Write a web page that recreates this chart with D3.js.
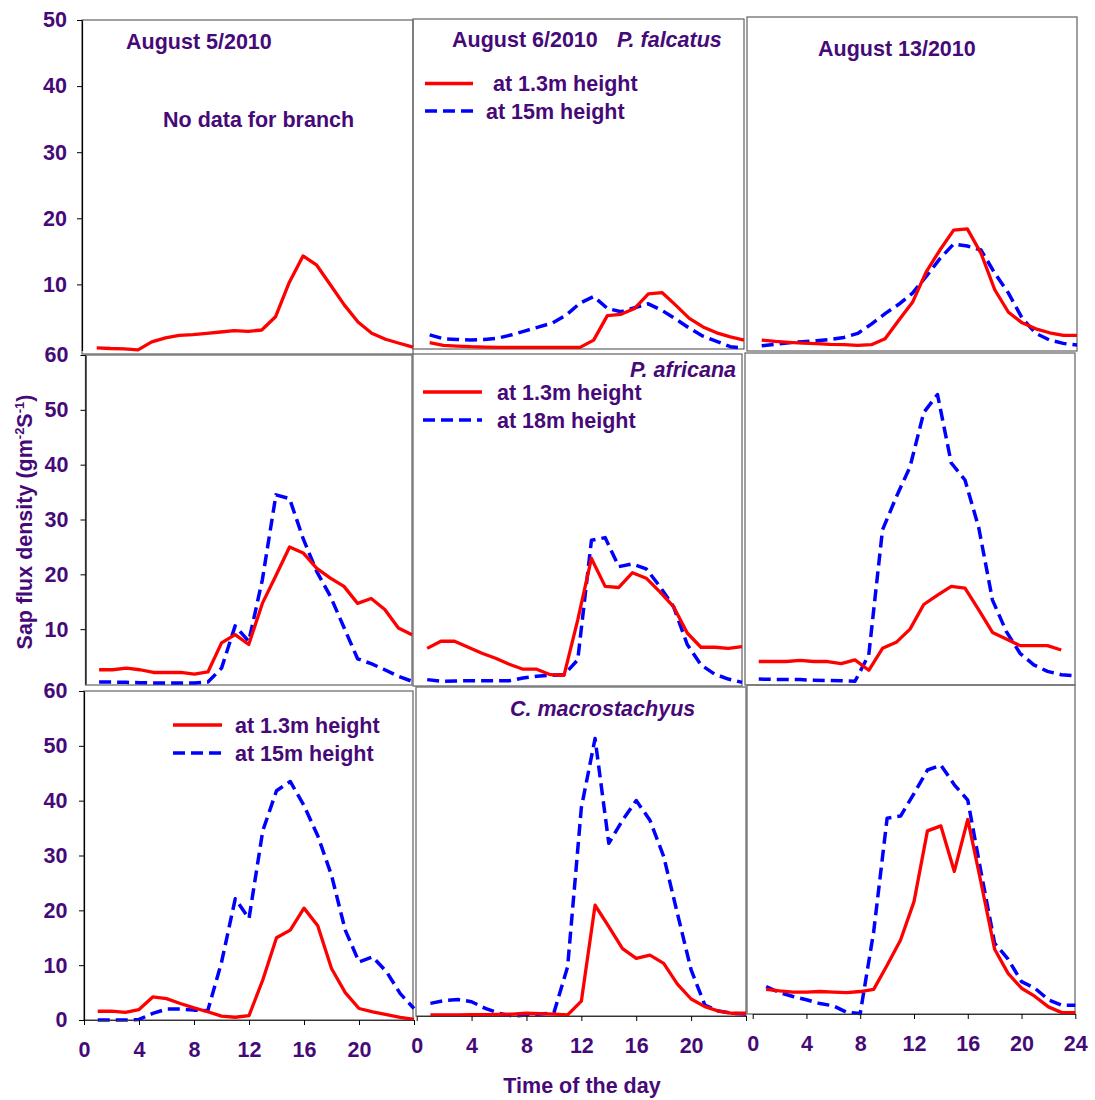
<!DOCTYPE html>
<html>
<head>
<meta charset="utf-8">
<script src="https://cdn.jsdelivr.net/npm/d3@7"></script>
<style>
  body { margin: 0; background: #fff; }
  text { font-family: "Liberation Sans", Arial, sans-serif; font-weight: bold; fill: #460a78; }
</style>
</head>
<body>
<svg id="chart" width="1095" height="1100"></svg>
<script>
// Hours of the day at which sap flux was logged
const hours = d3.range(1, 25);

// P. falcatus: stem (1.3 m) and branch (15 m)
const falcatusAug5Stem   = [0.4,0.3,0.25,0.1,1.3,1.9,2.3,2.4,2.6,2.8,3.0,2.9,3.1,5.1,10.3,14.3,12.9,9.9,6.9,4.3,2.6,1.7,1.1,0.5];
const falcatusAug6Stem   = [1.1,0.7,0.6,0.5,0.45,0.4,0.4,0.4,0.4,0.4,0.4,0.4,1.5,5.2,5.4,6.3,8.5,8.7,6.8,4.8,3.5,2.6,2.0,1.5];
const falcatusAug6Branch = [2.3,1.7,1.6,1.5,1.6,1.8,2.3,2.9,3.5,4.1,5.3,7.1,8.1,6.3,5.8,6.4,7.0,6.0,4.7,3.3,2.1,1.3,0.5,0.3];
const falcatusAug13Stem   = [1.2,1.0,0.85,0.75,0.65,0.55,0.5,0.4,0.5,1.4,4.2,6.9,11.5,14.8,17.8,18.0,14.3,8.8,5.4,3.8,2.9,2.3,1.9,1.9];
const falcatusAug13Branch = [0.35,0.55,0.8,0.95,1.1,1.3,1.6,2.2,3.6,5.2,6.6,8.3,10.8,13.5,15.7,15.4,14.8,11.3,8.3,4.5,2.2,1.2,0.7,0.45];

// P. africana: stem (1.3 m) and branch (18 m)
const africanaAug5Stem    = [2.6,2.6,2.9,2.6,2.1,2.1,2.1,1.8,2.2,7.5,9.0,7.2,14.7,19.8,25.0,23.9,21.1,19.3,17.8,14.7,15.6,13.6,10.2,9.0];
const africanaAug5Branch  = [0.35,0.35,0.3,0.25,0.2,0.2,0.2,0.2,0.35,2.9,10.6,7.8,19.0,34.5,33.8,26.5,20.5,16.0,10.3,4.6,3.7,2.6,1.4,0.5];
const africanaAug6Stem    = [6.5,7.8,7.8,6.7,5.6,4.7,3.6,2.7,2.7,1.7,1.6,11.7,22.9,17.8,17.6,20.3,19.3,16.8,14.1,9.3,6.7,6.7,6.5,6.8];
const africanaAug6Branch  = [0.8,0.5,0.55,0.6,0.6,0.6,0.6,1.1,1.4,1.6,1.7,4.4,26.2,26.7,21.4,21.9,21.0,17.8,14.1,7.2,3.5,1.8,0.9,0.3];
const africanaAug13Stem   = [4.1,4.1,4.1,4.3,4.1,4.1,3.7,4.4,2.5,6.5,7.6,10.0,14.5,16.2,17.8,17.5,13.5,9.4,8.2,7.0,7.0,7.0,6.2,null];
const africanaAug13Branch = [0.9,0.85,0.8,0.8,0.7,0.65,0.6,0.5,5.3,28.1,34.1,39.6,49.5,52.8,40.3,37.2,28.5,15.3,9.6,5.6,3.5,2.3,1.7,1.5];

// C. macrostachyus: stem (1.3 m) and branch (15 m)
const macroAug5Stem    = [1.6,1.6,1.4,1.9,4.2,3.9,3.0,2.2,1.5,0.7,0.5,0.8,7.3,15.0,16.4,20.4,17.2,9.4,5.0,2.1,1.5,1.0,0.5,0.1];
const macroAug5Branch  = [0,0,0,0.1,1.2,2.0,2.0,1.8,1.7,10.5,22.1,18.5,34.5,41.8,43.5,39.1,33.6,26.4,16.4,10.6,11.5,8.8,4.8,2.1];
const macroAug6Stem    = [0.2,0.2,0.2,0.25,0.25,0.3,0.35,0.5,0.45,0.35,0.2,2.7,20.2,16.3,12.3,10.5,11.1,9.6,5.8,3.1,1.7,0.9,0.5,0.5];
const macroAug6Branch  = [2.3,2.8,3.0,2.6,1.4,0.5,0,0.2,0.35,0.6,9.0,38.0,50.6,31.5,35.7,39.3,35.7,29.1,18.7,8.4,2.0,0.9,0.5,0.35];
const macroAug13Stem   = [4.5,4.2,4.0,4.0,4.1,4.0,3.9,4.1,4.5,8.9,13.5,20.5,33.4,34.3,26.0,35.5,23.8,11.8,7.4,4.7,3.2,1.3,0.25,0.25];
const macroAug13Branch = [5.0,3.9,3.2,2.6,1.9,1.5,0.3,0.1,15.0,35.7,36.1,40.2,44.5,45.4,41.8,39.0,25.7,12.9,10.0,5.9,4.7,2.6,1.6,1.6];

// Axis ticks
const hourTicks = [0, 4, 8, 12, 16, 20, 24];
const topRowTicks = [10, 20, 30, 40, 50];
const midRowTicks = [10, 20, 30, 40, 50, 60];
const lowRowTicks = [0, 10, 20, 30, 40, 50, 60];

const RED = "#ff0000", BLUE = "#0000ff", INK = "#460a78";
const svg = d3.select("#chart");

// Each panel: plot box and the pixel span of its 0–24 h and 0–ymax scales
const panels = [
  { stem: falcatusAug5Stem, branch: null,               ymax: 50, xr: [83, 413],    yr: [350.5, 20], box: [82, 20, 413, 354] },
  { stem: falcatusAug6Stem, branch: falcatusAug6Branch, ymax: 50, xr: [416, 744],   yr: [350, 20],   box: [413, 19, 744, 349] },
  { stem: falcatusAug13Stem, branch: falcatusAug13Branch, ymax: 50, xr: [748, 1077], yr: [348, 17],  box: [747, 17, 1077, 351] },
  { stem: africanaAug5Stem, branch: africanaAug5Branch, ymax: 60, xr: [85.5, 412],  yr: [684, 355],  box: [85.5, 355, 412, 685] },
  { stem: africanaAug6Stem, branch: africanaAug6Branch, ymax: 60, xr: [413.5, 742], yr: [684, 355],  box: [413, 354, 742, 686] },
  { stem: africanaAug13Stem, branch: africanaAug13Branch, ymax: 60, xr: [745, 1075], yr: [684, 355], box: [745, 353, 1075, 685] },
  { stem: macroAug5Stem, branch: macroAug5Branch,       ymax: 60, xr: [84, 414],    yr: [1020, 691], box: [84, 691, 413, 1020] },
  { stem: macroAug6Stem, branch: macroAug6Branch,       ymax: 60, xr: [416.7, 746], yr: [1016, 687], box: [416, 687, 746, 1016] },
  { stem: macroAug13Stem, branch: macroAug13Branch,     ymax: 60, xr: [752.7, 1075.3], yr: [1014, 685], box: [747, 685, 1075, 1014] }
];

panels.forEach(p => {
  p.x = d3.scaleLinear().domain([0, 24]).range(p.xr);
  p.y = d3.scaleLinear().domain([0, p.ymax]).range(p.yr);
});

// Panel frames
panels.forEach(p => {
  const [x0, y0, x1, y1] = p.box;
  svg.append("rect")
    .attr("x", x0).attr("y", y0).attr("width", x1 - x0).attr("height", y1 - y0)
    .attr("fill", "none").attr("stroke", "#6e6e6e").attr("stroke-width", 1.3);
});

// Series lines
panels.forEach(p => {
  const line = d3.line()
    .defined(d => d[1] != null)
    .x(d => p.x(d[0]))
    .y(d => p.y(d[1]));
  if (p.branch) {
    svg.append("path")
      .datum(hours.map((h, i) => [h, p.branch[i]]))
      .attr("d", line)
      .attr("fill", "none").attr("stroke", BLUE).attr("stroke-width", 3.5)
      .attr("stroke-dasharray", "12,6").attr("stroke-linejoin", "round");
  }
  svg.append("path")
    .datum(hours.map((h, i) => [h, p.stem[i]]))
    .attr("d", line)
    .attr("fill", "none").attr("stroke", RED).attr("stroke-width", 3.3)
    .attr("stroke-linejoin", "round");
});

// Styling helper for axes
function styleAxis(g) {
  g.select(".domain").attr("stroke", "#000").attr("stroke-width", 1.2);
  g.selectAll(".tick line").attr("stroke", "#000");
  g.selectAll(".tick text")
    .attr("fill", INK)
    .style("font-family", '"Liberation Sans", Arial, sans-serif')
    .style("font-weight", "bold")
    .style("font-size", "21.5px");
}

// Left y axes
[[0, topRowTicks, 10], [3, midRowTicks, 12], [6, lowRowTicks, 11.5]].forEach(([i, ticks, pad]) => {
  const p = panels[i];
  svg.append("g")
    .attr("transform", `translate(${p.box[0]},0)`)
    .call(d3.axisLeft(p.y).tickValues(ticks).tickSize(5).tickPadding(pad).tickSizeOuter(0))
    .call(styleAxis);
});

// Bottom hour axes
[[6, hourTicks], [7, hourTicks], [8, hourTicks]].forEach(([i, ticks], k) => {
  const p = panels[i];
  const g = svg.append("g")
    .attr("transform", `translate(0,${p.yr[0]})`)
    .call(d3.axisBottom(p.x).tickValues(ticks).tickSize(5).tickPadding(17).tickSizeOuter(0))
    .call(styleAxis);
  g.select(".domain").attr("stroke", "#333");
  // The 24 h label of the left and middle panels sits under the next panel's 0
  if (k < 2) g.selectAll(".tick text").filter(d => d === 24).remove();
});

// Panel titles and species names
function label(x, y, str, opts = {}) {
  return svg.append("text")
    .attr("x", x).attr("y", y)
    .attr("text-anchor", opts.anchor || "start")
    .style("font-size", (opts.size || 21.5) + "px")
    .style("font-style", opts.italic ? "italic" : "normal")
    .text(str);
}
label(126, 49, "August 5/2010");
label(163, 127, "No data for branch");
label(452, 47, "August 6/2010");
label(617, 47, "P. falcatus", { italic: true });
label(818, 56, "August 13/2010");
label(736, 377, "P. africana", { italic: true, anchor: "end" });
label(510, 716, "C. macrostachyus", { italic: true });

// Legends: stem line, branch line and their captions
const legends = [
  { x0: 425, x1: 473, yStem: 83.5, yBranch: 111, tx: [493, 486], ty: [91, 118.5], names: ["at 1.3m height", "at 15m height"] },
  { x0: 423, x1: 482, yStem: 392, yBranch: 420, tx: [497, 497], ty: [400, 428], names: ["at 1.3m height", "at 18m height"] },
  { x0: 173, x1: 222, yStem: 725, yBranch: 753, tx: [235, 235], ty: [733, 761], names: ["at 1.3m height", "at 15m height"] }
];
legends.forEach(l => {
  svg.append("line").attr("x1", l.x0).attr("x2", l.x1).attr("y1", l.yStem).attr("y2", l.yStem)
    .attr("stroke", RED).attr("stroke-width", 3.3);
  svg.append("line").attr("x1", l.x0).attr("x2", l.x1).attr("y1", l.yBranch).attr("y2", l.yBranch)
    .attr("stroke", BLUE).attr("stroke-width", 3.5).attr("stroke-dasharray", "12,6");
  label(l.tx[0], l.ty[0], l.names[0]);
  label(l.tx[1], l.ty[1], l.names[1]);
});

// Axis titles
const yTitle = svg.append("text")
  .attr("transform", "translate(32,522) rotate(-90)")
  .attr("text-anchor", "middle")
  .style("font-size", "21.5px");
yTitle.append("tspan").text("Sap flux density (gm");
yTitle.append("tspan").attr("dy", -8).style("font-size", "13px").text("-2");
yTitle.append("tspan").attr("dy", 8).text("S");
yTitle.append("tspan").attr("dy", -8).style("font-size", "13px").text("-1");
yTitle.append("tspan").attr("dy", 8).text(")");

label(582, 1093, "Time of the day", { anchor: "middle" });
</script>
</body>
</html>
